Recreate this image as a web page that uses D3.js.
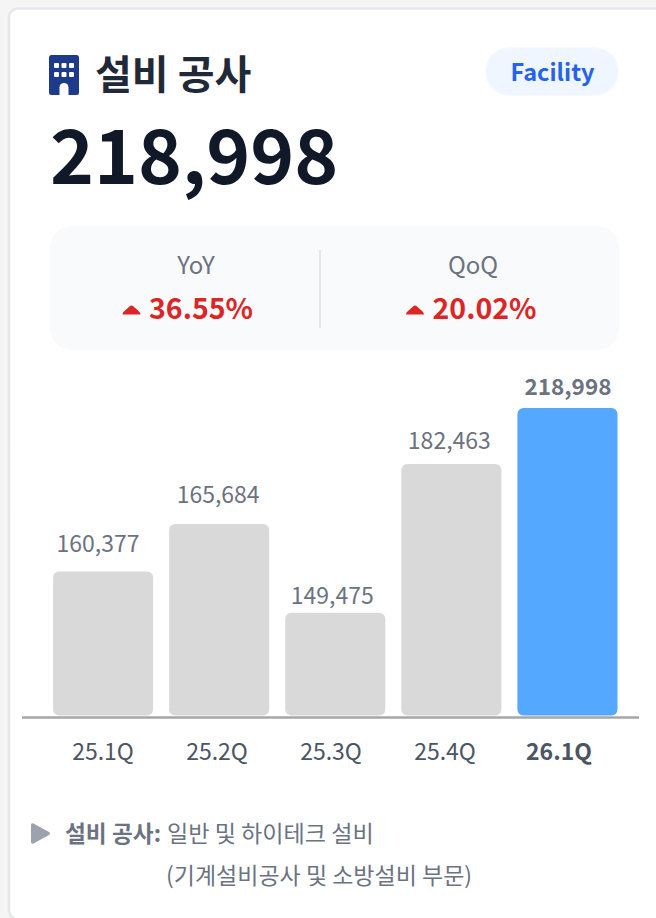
<!DOCTYPE html>
<html><head><meta charset="utf-8">
<script src="https://cdn.jsdelivr.net/npm/d3@7"></script>
<style>
html,body{margin:0;padding:0;background:#f5f5f5;overflow:hidden}
svg{display:block}
text{font-family:"Noto Sans CJK KR","Noto Sans",sans-serif}
</style></head><body><div id="chart"></div>
<script>
const categories = ["25.1Q","25.2Q","25.3Q","25.4Q","26.1Q"];
const valueLabels = ["160,377","165,684","149,475","182,463","218,998"];
// Drawn bar length as a percent of the tallest bar (the source bars are not proportional to labels)
const barLevels = [46.8, 62.3, 33.4, 81.8, 100];
const barColors = ["#d9d9d9","#d9d9d9","#d9d9d9","#d9d9d9","#55a8ff"];
const titleText = "설비 공사";
const tagText = "Facility";
const headlineText = "218,998";
const kpiLabels = ["YoY","QoQ"];
const kpiValues = ["36.55%","20.02%"];
const noteBold = "설비 공사:";
const noteLine1 = "일반 및 하이테크 설비";
const noteLine2 = "(기계설비공사 및 소방설비 부문)";

const W=656,H=918;
const svg=d3.select("#chart").append("svg").attr("width",W).attr("height",H);
const FONT='"Noto Sans CJK KR"';

// card
svg.append("rect").attr("x",9).attr("y",8.5).attr("width",700).attr("height",911).attr("rx",9)
  .attr("fill","#fff").attr("stroke","#e5e7eb").attr("stroke-width",2.5);

// building icon
const icon=svg.append("g").attr("transform","translate(49,55)");
icon.append("rect").attr("width",30).attr("height",40).attr("rx",2.5).attr("fill","#1e3a8a");
[0,1,2].forEach(c=>[0,1].forEach(r=>icon.append("rect")
  .attr("x",5+c*7.5).attr("y",8+r*9).attr("width",5).attr("height",5).attr("rx",1).attr("fill","#fff")));
icon.append("path").attr("d","M10.5,40V32.5a4.5,4.5 0 0 1 9,0V40Z").attr("fill","#fff");

svg.append("text").attr("x",95).attr("y",89).attr("font-size",40).attr("font-weight",700)
  .attr("fill","#1f2937").text(titleText);

// tag
svg.append("rect").attr("x",486).attr("y",48).attr("width",132).attr("height",47).attr("rx",23.5)
  .attr("fill","#eff6ff").attr("stroke","#f3f8ff").attr("stroke-width",1.5);
svg.append("text").attr("x",552.5).attr("y",81).attr("text-anchor","middle").attr("font-size",23.5)
  .attr("font-weight",700).attr("fill","#2563eb").text(tagText);

// headline
svg.append("text").attr("x",50).attr("y",184).attr("font-size",74.6).attr("font-weight",700)
  .attr("fill","#111827").text(headlineText);

// KPI panel
svg.append("rect").attr("x",50).attr("y",226).attr("width",569).attr("height",124).attr("rx",22).attr("fill","#f9fafb");
svg.append("line").attr("x1",320).attr("x2",320).attr("y1",250).attr("y2",328).attr("stroke","#e5e7eb").attr("stroke-width",2);
const kpiX=d3.scalePoint().domain(kpiLabels).range([196,473]);
const kpiValueDx=[5,11.5];
kpiLabels.forEach((k,i)=>{
  const cx=kpiX(k);
  svg.append("text").attr("x",cx).attr("y",274).attr("text-anchor","middle").attr("font-size",24)
    .attr("fill","#6b7280").text(k);
  const t=svg.append("text").attr("x",cx+kpiValueDx[i]).attr("y",319).attr("text-anchor","middle").attr("font-size",28.5)
    .attr("font-weight",700).attr("fill","#dc2626").text(kpiValues[i]);
  const left=t.node().getBBox().x;
  svg.append("path").attr("transform",`translate(${left-26.5},0)`)
    .attr("d","M0,314.5Q0,312 2,311L7,306.5Q9,304.5 11,306.5L16,311Q18,312.5 18,314.5Z").attr("fill","#dc2626");
});

// bars
const baseY=715.5;
const x=d3.scaleBand().domain(categories).range([53,617.5]).paddingInner(0.138);
const y=d3.scaleLinear().domain([0,100]).range([baseY,408]);
svg.append("g").selectAll("rect").data(categories).join("rect")
  .attr("x",d=>x(d)).attr("width",x.bandwidth())
  .attr("y",(d,i)=>y(barLevels[i])).attr("height",(d,i)=>baseY-y(barLevels[i]))
  .attr("rx",6).attr("fill",(d,i)=>barColors[i]);
// value labels sit slightly off their bars in the source
const labelDx=[-5,-1,-3,-2,0.5], labelGap=[20,21,9,15,13];
svg.append("g").selectAll("text").data(categories).join("text")
  .attr("x",(d,i)=>x(d)+x.bandwidth()/2+labelDx[i])
  .attr("y",(d,i)=>y(barLevels[i])-labelGap[i])
  .attr("text-anchor","middle").attr("font-size",(d,i)=>i===4?22.5:23)
  .attr("font-weight",(d,i)=>i===4?700:400)
  .attr("fill","#6b7280")
  .text((d,i)=>valueLabels[i]);

// axis (tick labels are spaced a little tighter than the bars in the source)
const tickX=d3.scalePoint().domain(categories).range([102.5,558.5]);
const axis=svg.append("g").attr("transform","translate(0,717)")
  .call(d3.axisBottom(tickX).tickSize(0).tickPadding(27));
axis.select(".domain").remove();
svg.append("line").attr("x1",22).attr("x2",639).attr("y1",717.5).attr("y2",717.5).attr("stroke","#a6a6a6").attr("stroke-width",2.5);
axis.selectAll("text").attr("font-family",FONT).attr("font-size",23)
  .attr("fill","#4b5563").attr("font-weight",(d,i)=>i===4?700:400);

// note
svg.append("path").attr("d","M31,825Q31,822.5 33.5,823.5L49,832Q51,833.5 49,835L33.5,843.5Q31,844.5 31,842Z").attr("fill","#9ca3af");
svg.append("text").attr("x",65).attr("y",842).attr("font-size",22.7).attr("font-weight",700).attr("fill","#6b7280").text(noteBold);
svg.append("text").attr("x",167).attr("y",842).attr("font-size",23.1).attr("fill","#6b7280").text(noteLine1);
svg.append("text").attr("x",166).attr("y",884).attr("font-size",23).attr("fill","#6b7280").text(noteLine2);
</script></body></html>
